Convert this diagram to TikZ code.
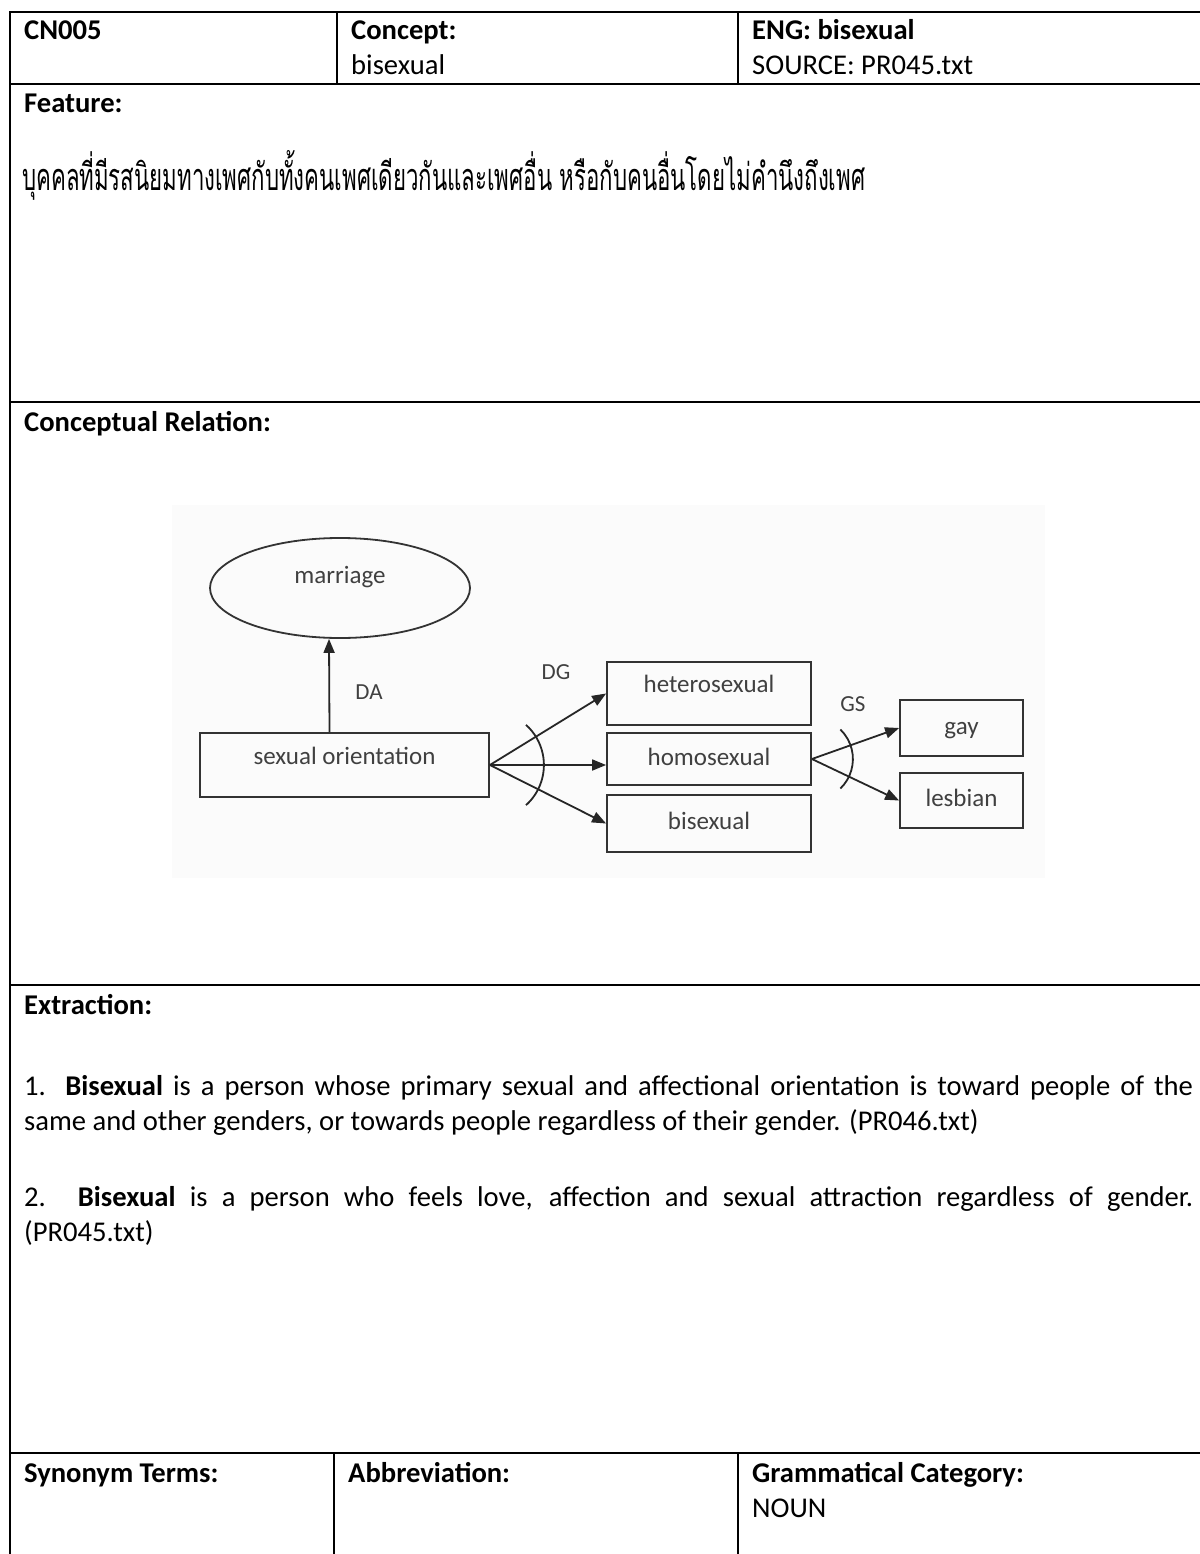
\documentclass[tikz,border=0pt]{standalone}
\usepackage{fontspec}
\setmainfont{Carlito}
\newfontfamily\thaifont[Script=Thai]{Loma}
\usetikzlibrary{arrows.meta,shapes.geometric}

\begin{document}
\begin{tikzpicture}[x=1pt,y=-1pt,
  rule/.style={line width=2.7pt, line cap=rect},
  txt/.style={anchor=base west, inner sep=0pt, font=\fontsize{28.6}{35}\selectfont},
  btxt/.style={txt, font=\fontsize{28.6}{35}\selectfont\bfseries},
  box/.style={draw=black!80, line width=1.8pt, rectangle, inner sep=0pt,
    text=black!75, font=\fontsize{25}{30}\selectfont,
    text height=17pt, text depth=5pt},
  oval/.style={box, ellipse},
  conn/.style={draw=black!85, line width=1.8pt, -{Triangle[length=14pt,width=11pt]}},
  plain/.style={draw=black!85, line width=1.8pt},
  lbl/.style={inner sep=0pt, text=black!75, font=\fontsize{23}{28}\selectfont}]

\useasboundingbox (0,0) rectangle (1199,1554);

% table rules
\draw[rule] (10,12) -- (1199,12);
\draw[rule] (10,12) -- (10,1554);
\draw[rule] (10,84) -- (1199,84);
\draw[rule] (337,12) -- (337,84);
\draw[rule] (738,12) -- (738,84);
\draw[rule] (10,402) -- (1199,402);
\draw[rule] (10,985) -- (1199,985);
\draw[rule] (10,1453) -- (1199,1453);
\draw[rule] (334,1453) -- (334,1554);
\draw[rule] (738,1453) -- (738,1554);

% header row
\node[btxt] (id) at (24,40) {CN005};
\node[btxt] (conh) at (351,40) {Concept:};
\node[txt] (conv) at (351,75) {bisexual};
\node[btxt] (engh) at (752,40) {ENG: bisexual};
\node[txt] (src) at (752,75) {SOURCE: PR045.txt};

% feature
\node[btxt] (feat) at (24,113) {Feature:};
\node[anchor=base west, inner sep=0pt] (thai) at (22,190)
  {\scalebox{1}[1.7]{\resizebox{843pt}{!}{\thaifont บุคคลที่มีรสนิยมทางเพศกับทั้งคนเพศเดียวกันและเพศอื่น หรือกับคนอื่นโดยไม่คำนึงถึงเพศ}}};

% conceptual relation
\node[btxt] (rel) at (24,431) {Conceptual Relation:};

\fill[black!1.5] (172,505) rectangle (1045,878);

\node[oval, minimum width=260pt, minimum height=100pt] (mar) at (340,588) {\raisebox{11pt}{marriage}};
\node[box, minimum width=289pt, minimum height=64pt] (so) at (344.5,765) {\raisebox{7pt}{sexual orientation}};
\node[box, minimum width=204pt, minimum height=63pt] (het) at (709,693.5) {\raisebox{7pt}{heterosexual}};
\node[box, minimum width=204pt, minimum height=52pt] (hom) at (709,759) {homosexual};
\node[box, minimum width=204pt, minimum height=57pt] (bis) at (709,823.5) {bisexual};
\node[box, minimum width=123pt, minimum height=56pt] (gay) at (961.5,728) {gay};
\node[box, minimum width=123pt, minimum height=55pt] (les) at (961.5,800.5) {lesbian};

\draw[conn] ([xshift=-15pt]so.north) -- ([xshift=-11pt]mar.south);
\draw[conn] (so.east) -- (het.west);
\draw[conn] (so.east) -- (so.east -| hom.west);
\draw[conn] (so.east) -- (bis.west);
\draw[plain] ([shift={(48:54)}]so.east) arc[start angle=48, end angle=-48, radius=54];
\draw[conn] (hom.east) -- (gay.west);
\draw[conn] (hom.east) -- (les.west);
\draw[plain] ([shift={(46:41)}]hom.east) arc[start angle=46, end angle=-46, radius=41];

\node[lbl] (da) at (369,692) {DA};
\node[lbl] (dg) at (556,672) {DG};
\node[lbl] (gs) at (853,704) {GS};

% extraction
\node[btxt] (ext) at (24,1014) {Extraction:};
\node[txt] (e1a) at (24,1095) {\makebox[1169pt][s]{1. \textbf{Bisexual} is a person whose primary sexual and affectional orientation is toward people of the}};
\node[txt] (e1b) at (24,1130) {same and other genders, or towards people regardless of their gender. (PR046.txt)};
\node[txt] (e2a) at (24,1206) {\makebox[1169pt][s]{2. \textbf{Bisexual} is a person who feels love, affection and sexual attraction regardless of gender.}};
\node[txt] (e2b) at (24,1241) {(PR045.txt)};

% bottom row
\node[btxt] (syn) at (24,1482) {Synonym Terms:};
\node[btxt] (abb) at (348,1482) {Abbreviation:};
\node[btxt] (gram) at (752,1482) {Grammatical Category:};
\node[txt] (noun) at (752,1517) {NOUN};
\end{tikzpicture}
\end{document}
